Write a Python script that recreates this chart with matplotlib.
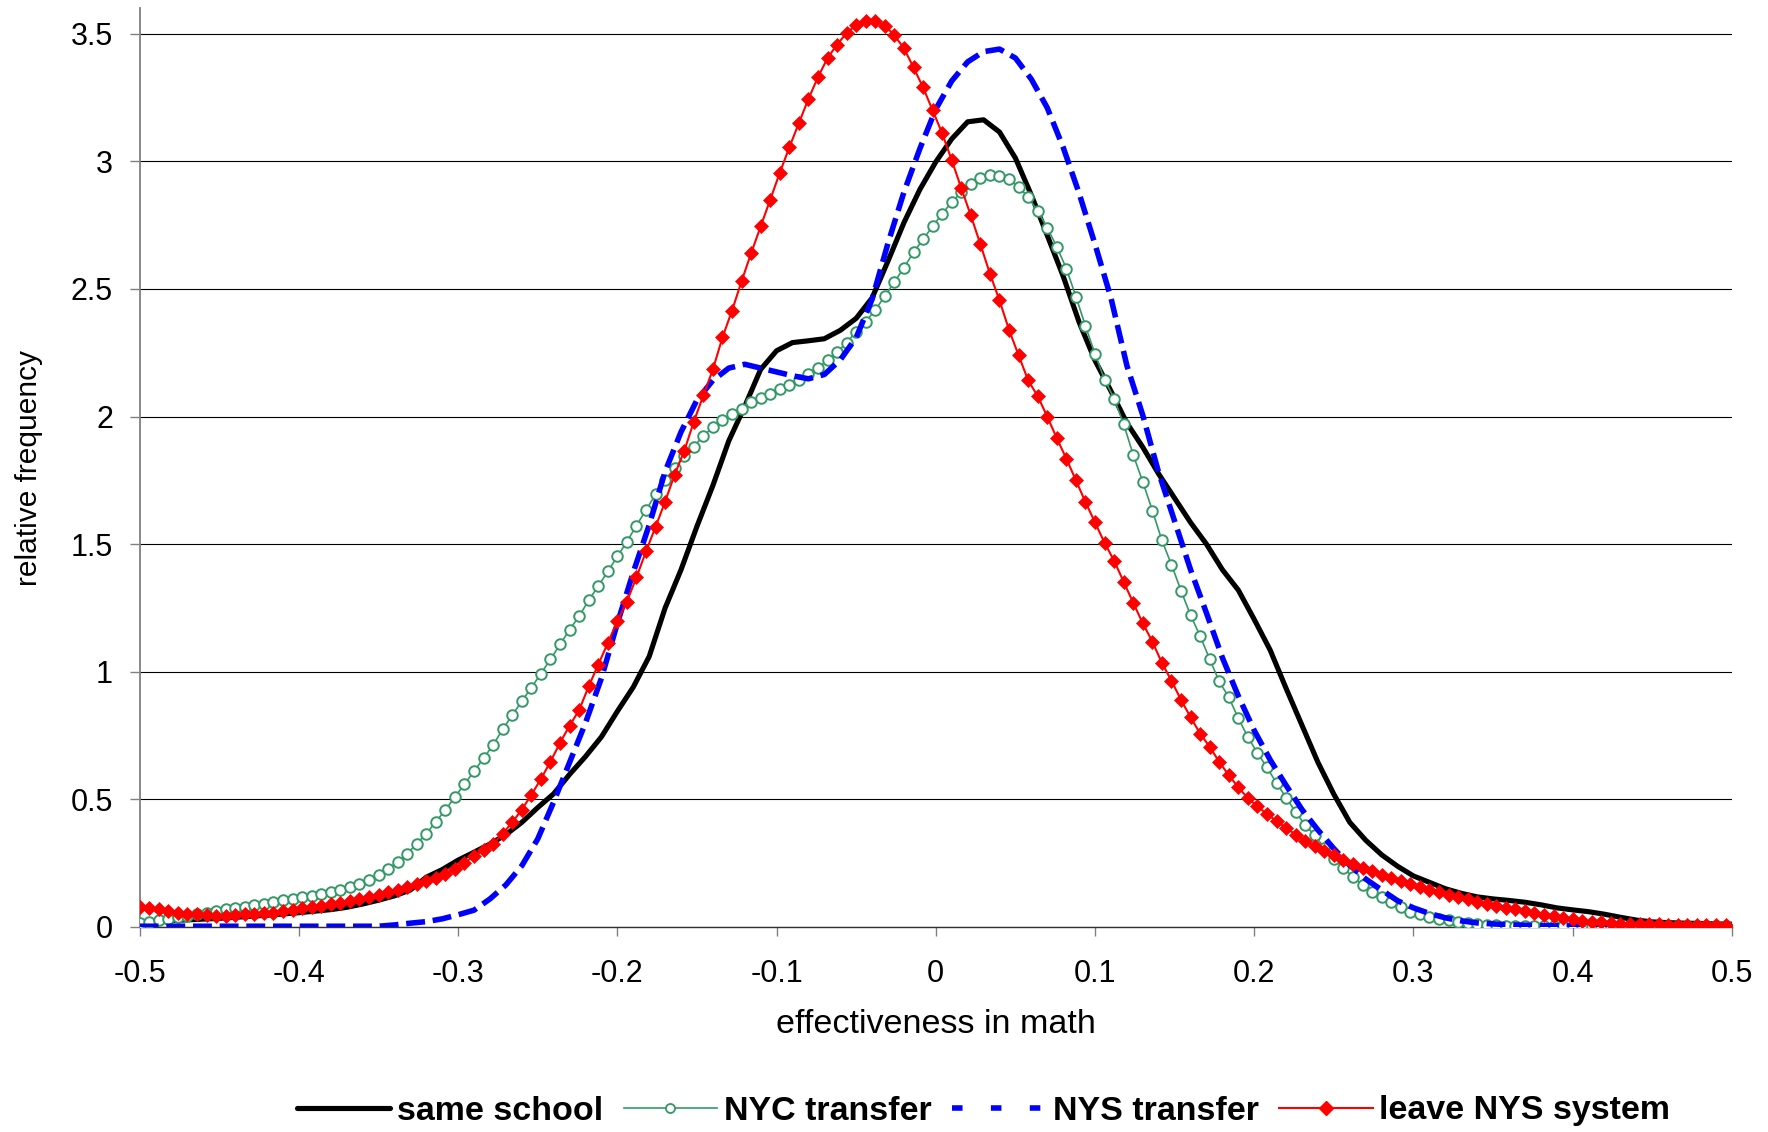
import numpy as np
import matplotlib
matplotlib.use("Agg")
import matplotlib.pyplot as plt
from matplotlib.lines import Line2D

plt.rcParams['font.family'] = ['Liberation Sans', 'DejaVu Sans']

# ---------------- data ----------------
# marker series grid (step 0.006 from -0.5)
x_mark = np.round(np.linspace(-0.5, 0.496, 167), 3)

leave_nys = [
    0.078, 0.074, 0.069, 0.063, 0.055, 0.051, 0.049, 0.046, 0.044, 0.045,
    0.047, 0.049, 0.051, 0.053, 0.055, 0.061, 0.067, 0.073, 0.078, 0.084,
    0.089, 0.095, 0.102, 0.109, 0.116, 0.126, 0.136, 0.146, 0.157, 0.168,
    0.180, 0.192, 0.208, 0.227, 0.252, 0.278, 0.301, 0.326, 0.366, 0.410,
    0.460, 0.518, 0.580, 0.648, 0.722, 0.789, 0.850, 0.943, 1.028, 1.112,
    1.198, 1.275, 1.370, 1.472, 1.568, 1.667, 1.773, 1.865, 1.980, 2.083,
    2.185, 2.310, 2.415, 2.530, 2.640, 2.745, 2.850, 2.955, 3.055, 3.150,
    3.245, 3.330, 3.405, 3.458, 3.503, 3.534, 3.551, 3.552, 3.532, 3.494,
    3.443, 3.368, 3.290, 3.200, 3.110, 3.005, 2.895, 2.788, 2.675, 2.560,
    2.455, 2.340, 2.240, 2.142, 2.080, 2.000, 1.915, 1.835, 1.750, 1.665,
    1.585, 1.505, 1.435, 1.352, 1.270, 1.190, 1.118, 1.035, 0.965, 0.890,
    0.822, 0.758, 0.706, 0.647, 0.595, 0.547, 0.505, 0.473, 0.442, 0.415,
    0.388, 0.362, 0.337, 0.317, 0.297, 0.281, 0.262, 0.246, 0.232, 0.218,
    0.204, 0.191, 0.181, 0.170, 0.157, 0.146, 0.138, 0.127, 0.117, 0.110,
    0.098, 0.090, 0.083, 0.076, 0.069, 0.062, 0.055, 0.048, 0.042, 0.036,
    0.031, 0.025, 0.021, 0.018, 0.015, 0.013, 0.012, 0.011, 0.010, 0.010,
    0.009, 0.009, 0.008, 0.008, 0.008, 0.007, 0.007,
]

nyc_transfer = [
    0.017, 0.021, 0.028, 0.033, 0.039, 0.043, 0.049, 0.056, 0.064, 0.070,
    0.073, 0.079, 0.086, 0.092, 0.099, 0.104, 0.110, 0.117, 0.123, 0.128,
    0.136, 0.145, 0.157, 0.170, 0.183, 0.202, 0.228, 0.255, 0.287, 0.327,
    0.365, 0.413, 0.458, 0.510, 0.560, 0.610, 0.662, 0.713, 0.775, 0.830,
    0.885, 0.938, 0.993, 1.049, 1.107, 1.165, 1.218, 1.280, 1.336, 1.393,
    1.452, 1.510, 1.573, 1.634, 1.695, 1.750, 1.800, 1.845, 1.882, 1.925,
    1.958, 1.985, 2.012, 2.030, 2.057, 2.072, 2.090, 2.107, 2.125, 2.145,
    2.165, 2.190, 2.222, 2.252, 2.290, 2.333, 2.372, 2.418, 2.472, 2.527,
    2.584, 2.643, 2.695, 2.745, 2.795, 2.840, 2.880, 2.910, 2.933, 2.946,
    2.943, 2.930, 2.900, 2.860, 2.805, 2.740, 2.665, 2.580, 2.470, 2.355,
    2.245, 2.145, 2.070, 1.970, 1.850, 1.744, 1.632, 1.515, 1.420, 1.318,
    1.222, 1.140, 1.050, 0.962, 0.900, 0.818, 0.744, 0.682, 0.625, 0.564,
    0.507, 0.450, 0.399, 0.359, 0.310, 0.267, 0.231, 0.196, 0.164, 0.138,
    0.116, 0.097, 0.077, 0.060, 0.049, 0.040, 0.032, 0.026, 0.019, 0.015,
    0.011, 0.008, 0.006, 0.005, 0.004, 0.003, 0.003, 0.003, 0.003, 0.003,
    0.003, 0.003, 0.003, 0.003, 0.003, 0.003, 0.003, 0.003, 0.003, 0.003,
    0.003, 0.003, 0.003, 0.003, 0.003, 0.003, 0.003,
]

# line series grid (step 0.01)
x_line = np.round(np.linspace(-0.5, 0.5, 101), 2)

same_school = [
    0.020, 0.022, 0.025, 0.028, 0.031, 0.034, 0.038, 0.042, 0.046, 0.051,
    0.056, 0.062, 0.068, 0.077, 0.090, 0.105, 0.122, 0.145, 0.195, 0.225,
    0.262, 0.293, 0.325, 0.362, 0.410, 0.468, 0.522, 0.598, 0.668, 0.745,
    0.845, 0.940, 1.060, 1.250, 1.400, 1.570, 1.730, 1.905, 2.040, 2.185,
    2.258, 2.290, 2.297, 2.305, 2.338, 2.385, 2.465, 2.610, 2.760, 2.890,
    2.998, 3.088, 3.155, 3.163, 3.115, 3.013, 2.868, 2.710, 2.550, 2.370,
    2.220, 2.100, 1.975, 1.880, 1.775, 1.680, 1.585, 1.500, 1.400, 1.320,
    1.205, 1.085, 0.935, 0.790, 0.645, 0.520, 0.410, 0.340, 0.283, 0.238,
    0.200, 0.175, 0.150, 0.132, 0.118, 0.110, 0.104, 0.097, 0.087, 0.075,
    0.067, 0.060, 0.050, 0.038, 0.027, 0.020, 0.017, 0.015, 0.014, 0.012,
    0.011,
]

nys_transfer = [
    0.003, 0.003, 0.003, 0.003, 0.003, 0.003, 0.003, 0.003, 0.003, 0.003,
    0.003, 0.003, 0.003, 0.003, 0.003, 0.003, 0.008, 0.015, 0.021, 0.032,
    0.048, 0.066, 0.110, 0.165, 0.240, 0.345, 0.490, 0.645, 0.800, 0.975,
    1.190, 1.390, 1.575, 1.785, 1.940, 2.065, 2.142, 2.190, 2.205, 2.190,
    2.175, 2.160, 2.148, 2.165, 2.222, 2.310, 2.460, 2.680, 2.880, 3.050,
    3.205, 3.315, 3.390, 3.430, 3.440, 3.405, 3.322, 3.210, 3.055, 2.875,
    2.675, 2.465, 2.200, 2.005, 1.780, 1.590, 1.400, 1.230, 1.055, 0.905,
    0.770, 0.655, 0.555, 0.460, 0.380, 0.307, 0.242, 0.188, 0.145, 0.103,
    0.075, 0.053, 0.036, 0.024, 0.016, 0.012, 0.009, 0.007, 0.005, 0.005,
    0.004, 0.004, 0.004, 0.004, 0.004, 0.004, 0.004, 0.004, 0.004, 0.004,
    0.004,
]

series_labels = ["same school", "NYC transfer", "NYS transfer", "leave NYS system"]
x_ticks = [-0.5, -0.4, -0.3, -0.2, -0.1, 0, 0.1, 0.2, 0.3, 0.4, 0.5]
x_tick_labels = ["-0.5", "-0.4", "-0.3", "-0.2", "-0.1", "0", "0.1", "0.2", "0.3", "0.4", "0.5"]
y_ticks = [0, 0.5, 1, 1.5, 2, 2.5, 3, 3.5]
y_tick_labels = ["0", "0.5", "1", "1.5", "2", "2.5", "3", "3.5"]
x_title = "effectiveness in math"
y_title = "relative frequency"

# ---------------- figure ----------------
fig = plt.figure(figsize=(17.68, 11.32), dpi=100)
ax = fig.add_axes([0.079, 0.1811, 0.9006, 0.8116])

GREEN = "#339966"
BLUE = "#0000FF"
RED = "#FF0000"

ax.plot(x_line, same_school, color="black", lw=3.7, solid_joinstyle="round",
        zorder=3)
ax.plot(x_mark, nyc_transfer, color=GREEN, lw=1.2, marker="o", ms=7.6,
        mfc="white", mec=GREEN, mew=1.4, zorder=4)
ax.plot(x_line, nys_transfer, color=BLUE, lw=4.0, dashes=(3.4, 1.4),
        dash_capstyle="butt", zorder=5)
ax.plot(x_mark, leave_nys, color=RED, lw=1.5, marker="D", ms=7.6,
        mfc=RED, mec=RED, mew=0.5, zorder=6)

ax.set_xlim(-0.5, 0.5)
ax.set_ylim(0, 3.6)
ax.set_xticks(x_ticks)
ax.set_xticklabels(x_tick_labels)
ax.set_yticks(y_ticks)
ax.set_yticklabels(y_tick_labels)

for y in y_ticks:
    ax.axhline(y, color="black", lw=0.8, zorder=1)

for s in ["top", "right"]:
    ax.spines[s].set_visible(False)
ax.spines["left"].set_color("#808080")
ax.spines["left"].set_linewidth(1.3)
ax.spines["bottom"].set_color("#303030")
ax.spines["bottom"].set_linewidth(1.0)

ax.tick_params(axis="x", direction="out", length=6.7, width=1.0, color="#808080",
               pad=16, labelsize=22)
ax.tick_params(axis="y", direction="out", length=7.2, width=1.0, color="#808080",
               pad=12, labelsize=22)

ax.set_xlabel(x_title, fontsize=24.5)
ax.xaxis.set_label_coords(0.5, -0.089)
ax.set_ylabel(y_title, fontsize=21.5)
ax.yaxis.set_label_coords(-0.0607, 0.5)

handles = [
    Line2D([], [], color="black", lw=3.7, solid_capstyle="round"),
    Line2D([], [], color=GREEN, lw=1.2, marker="o", ms=6.5, mfc="white",
           mec=GREEN, mew=1.3),
    Line2D([], [], color=BLUE, lw=4.0, dashes=(1.9, 5.1), dash_capstyle="butt"),
    Line2D([], [], color=RED, lw=1.5, marker="D", ms=7.0, mfc=RED, mec=RED),
]
fig.legend(handles, series_labels, loc="center", ncol=4, frameon=False,
           bbox_to_anchor=(983.5 / 1768, 1 - 1111 / 1132),
           prop={"weight": "bold", "size": 24.5},
           handlelength=2.75, handletextpad=0.2, columnspacing=0.6,
           markerfirst=True, numpoints=1)

fig.savefig("out.png", dpi=100)
